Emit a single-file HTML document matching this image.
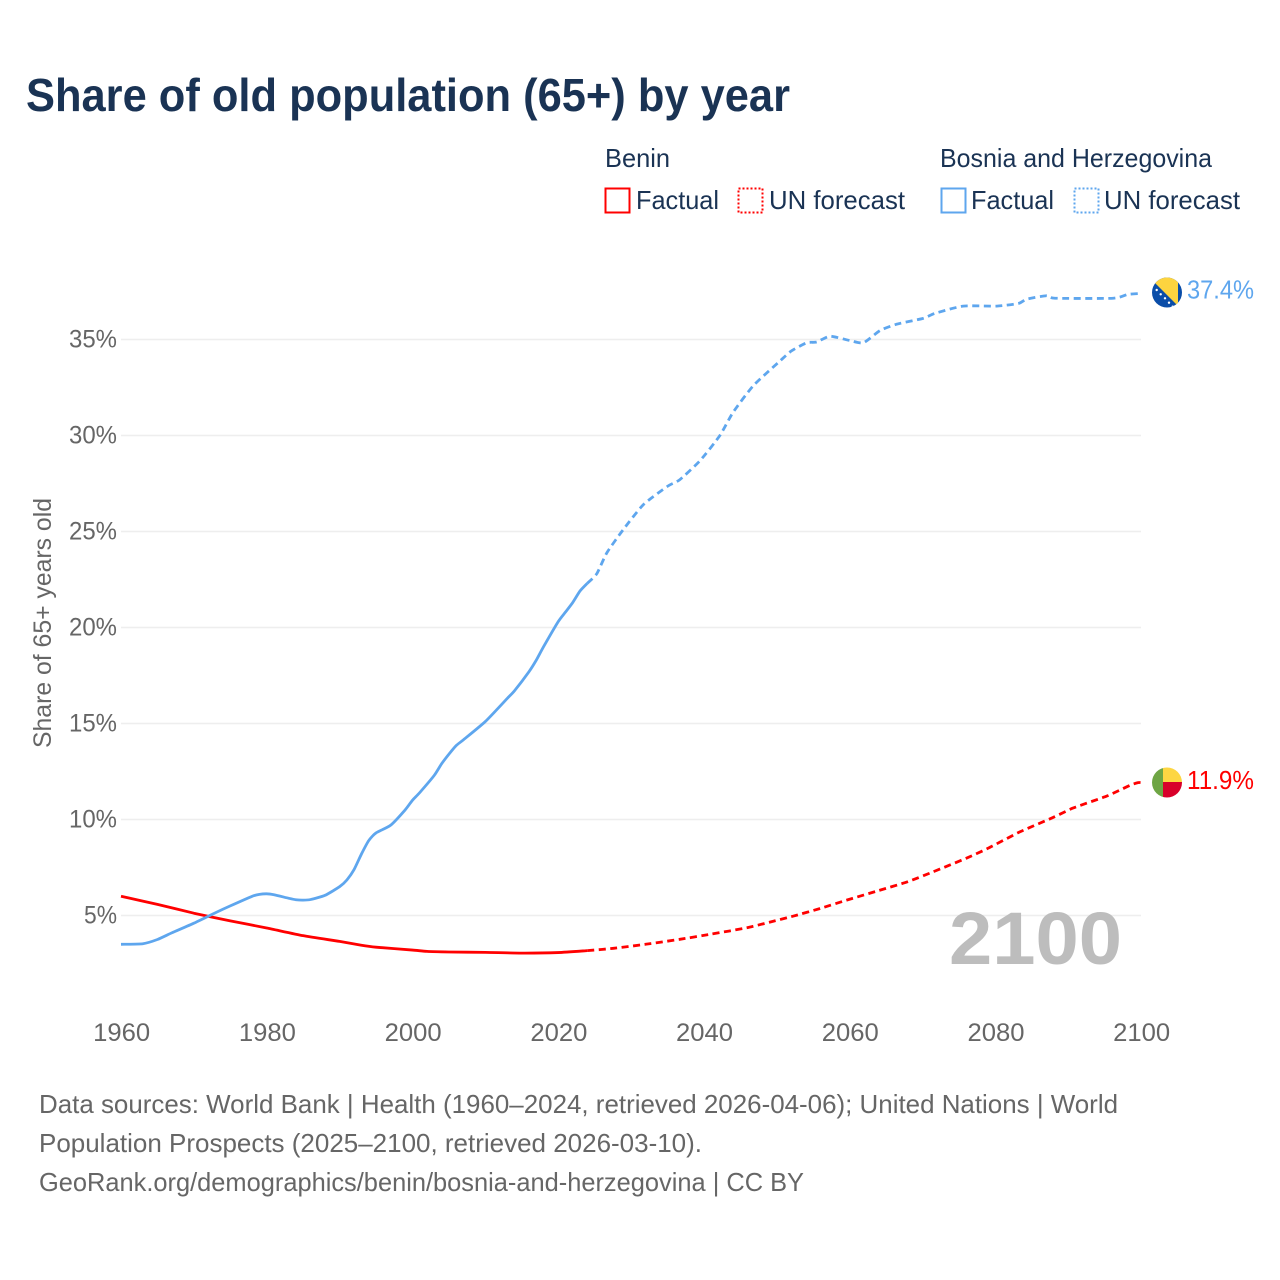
<!DOCTYPE html>
<html>
<head>
<meta charset="utf-8">
<title>Share of old population (65+) by year</title>
<style>
html,body{margin:0;padding:0;background:#fff;}
svg{display:block;font-family:"Liberation Sans",sans-serif;}
</style>
</head>
<body>
<svg id="chart" width="1280" height="1280" viewBox="0 0 1280 1280" xmlns="http://www.w3.org/2000/svg">
  <defs>
    <clipPath id="clipBA"><circle cx="1167" cy="292.5" r="15"/></clipPath>
    <clipPath id="clipBJ"><circle cx="1167" cy="782.5" r="15"/></clipPath>
  </defs>
  <text x="26" y="111" font-size="46" font-weight="700" fill="#1a3354" textLength="764" lengthAdjust="spacingAndGlyphs">Share of old population (65+) by year</text>

  <g fill="#1a3354" font-size="26">
    <text x="605" y="167" textLength="65" lengthAdjust="spacingAndGlyphs">Benin</text>
    <text x="940" y="167" textLength="272" lengthAdjust="spacingAndGlyphs">Bosnia and Herzegovina</text>
    <rect x="605.5" y="188.5" width="24" height="24" fill="none" stroke="#ff0000" stroke-width="2"/>
    <text x="636" y="209" textLength="83" lengthAdjust="spacingAndGlyphs">Factual</text>
    <rect x="738.5" y="188.5" width="24" height="24" fill="none" stroke="#ff0000" stroke-width="2" stroke-dasharray="2 2"/>
    <text x="769" y="209" textLength="136" lengthAdjust="spacingAndGlyphs">UN forecast</text>
    <rect x="941.5" y="188.5" width="24" height="24" fill="none" stroke="#5ea6ee" stroke-width="2"/>
    <text x="971" y="209" textLength="83" lengthAdjust="spacingAndGlyphs">Factual</text>
    <rect x="1074.5" y="188.5" width="24" height="24" fill="none" stroke="#5ea6ee" stroke-width="2" stroke-dasharray="2 2"/>
    <text x="1104" y="209" textLength="136" lengthAdjust="spacingAndGlyphs">UN forecast</text>
  </g>

  <g id="grid"></g>
  <g id="yticks" fill="#666" font-size="25"></g>
  <g id="xticks" fill="#666" font-size="25"></g>
  <text transform="translate(51,748) rotate(-90)" font-size="25" fill="#666" textLength="250" lengthAdjust="spacingAndGlyphs">Share of 65+ years old</text>

  <text x="949" y="964" font-size="74" font-weight="700" fill="#bdbdbd" textLength="173" lengthAdjust="spacingAndGlyphs">2100</text>

  <g id="series"></g>

  <g clip-path="url(#clipBA)">
    <rect x="1152" y="277" width="30" height="31" fill="#0a4da8"/>
    <polygon points="1149,277 1178,277 1178,306" fill="#fdd43f"/>
    <g fill="#fff">
      <circle cx="1156.7" cy="290" r="1.2"/><circle cx="1160.7" cy="294.3" r="1.2"/><circle cx="1165" cy="298.3" r="1.2"/><circle cx="1169" cy="302.7" r="1.2"/><circle cx="1172.7" cy="306.7" r="1.2"/>
    </g>
  </g>
  <g clip-path="url(#clipBJ)">
    <rect x="1152" y="767" width="11" height="31" fill="#6ea544"/>
    <rect x="1163" y="767" width="19" height="15" fill="#fdd643"/>
    <rect x="1163" y="782" width="19" height="16" fill="#d8002a"/>
  </g>
  <text id="labelBA" x="1187" y="298.5" font-size="26" fill="#5ea6ee" textLength="67" lengthAdjust="spacingAndGlyphs"></text>
  <text id="labelBJ" x="1187" y="789" font-size="26" fill="#ff0000" textLength="67" lengthAdjust="spacingAndGlyphs"></text>

  <g font-size="26" fill="#666">
    <text x="39" y="1113" textLength="1079" lengthAdjust="spacingAndGlyphs">Data sources: World Bank | Health (1960–2024, retrieved 2026-04-06); United Nations | World</text>
    <text x="39" y="1152" textLength="663" lengthAdjust="spacingAndGlyphs">Population Prospects (2025–2100, retrieved 2026-03-10).</text>
    <text x="39" y="1191" textLength="765" lengthAdjust="spacingAndGlyphs">GeoRank.org/demographics/benin/bosnia-and-herzegovina | CC BY</text>
  </g>
</svg>
<script>
const yTickValues = [5, 10, 15, 20, 25, 30, 35];
const xTickValues = [1960, 1980, 2000, 2020, 2040, 2060, 2080, 2100];

const beninFactualYears = [1960,1965,1970,1975,1980,1985,1990,1993,1995,2000,2002,2005,2010,2015,2020,2024];
const beninFactualValues = [6.0,5.58,5.12,4.72,4.35,3.95,3.65,3.45,3.35,3.2,3.13,3.1,3.08,3.04,3.07,3.17];
const beninForecastYears = [2024,2027.6,2032,2036.7,2041,2045.9,2049,2052.3,2056,2059.6,2064,2068,2071.5,2076,2079,2083.4,2087.9,2090.7,2095.3,2098.5,2099.6,2100];
const beninForecastValues = [3.17,3.29,3.5,3.76,4.03,4.36,4.65,4.97,5.37,5.8,6.3,6.76,7.28,7.98,8.5,9.36,10.1,10.6,11.22,11.78,11.92,11.92];

const bosniaFactualYears = [1960,1963,1965,1967,1970,1973,1975,1978,1979,1980,1981,1983,1984,1985,1986,1988,1990,1991,1992,1993,1994,1995,1997,1999,2000,2001,2003,2004,2005,2006,2007,2010,2013,2014,2016,2017,2018,2020,2021,2022,2023,2024];
const bosniaFactualValues = [3.5,3.53,3.75,4.1,4.6,5.15,5.5,6.0,6.1,6.13,6.08,5.9,5.82,5.8,5.83,6.05,6.5,6.85,7.4,8.2,8.9,9.3,9.7,10.5,11.0,11.4,12.3,12.9,13.4,13.85,14.15,15.1,16.3,16.7,17.7,18.3,19.0,20.3,20.8,21.3,21.9,22.3];
const bosniaForecastYears = [2024,2025.3,2026.7,2028.9,2031.7,2035,2036.7,2039.5,2042.2,2044,2046.8,2050.5,2052,2054.1,2055.5,2057.3,2060,2061.9,2064.2,2066.5,2070.1,2071.7,2075.6,2080.2,2083.2,2084.3,2087,2088.2,2096.2,2098.2,2100];
const bosniaForecastValues = [22.3,22.8,23.9,25.08,26.4,27.35,27.7,28.7,30.0,31.2,32.6,33.9,34.4,34.83,34.87,35.17,34.95,34.83,35.47,35.8,36.1,36.36,36.74,36.74,36.88,37.1,37.28,37.15,37.15,37.35,37.4];

const endLabelBosnia = "37.4%";
const endLabelBenin = "11.9%";

const SVG_NS = "http://www.w3.org/2000/svg";
function xScale(year) { return 121 + (year - 1960) * (1020 / 140); }
function yScale(value) { return 1011.5 - value * 19.2; }

function drawLine(years, values, color, dash, name) {
  const path = document.createElementNS(SVG_NS, "path");
  const pts = years.map(function (yr, i) { return [xScale(yr), yScale(values[i])]; });
  let d = "M" + pts[0][0].toFixed(2) + " " + pts[0][1].toFixed(2);
  for (let i = 0; i < pts.length - 1; i++) {
    const p0 = pts[Math.max(i - 1, 0)], p1 = pts[i], p2 = pts[i + 1], p3 = pts[Math.min(i + 2, pts.length - 1)];
    const c1x = p1[0] + (p2[0] - p0[0]) / 10, c1y = p1[1] + (p2[1] - p0[1]) / 10;
    const c2x = p2[0] - (p3[0] - p1[0]) / 10, c2y = p2[1] - (p3[1] - p1[1]) / 10;
    d += "C" + c1x.toFixed(2) + " " + c1y.toFixed(2) + " " + c2x.toFixed(2) + " " + c2y.toFixed(2) + " " + p2[0].toFixed(2) + " " + p2[1].toFixed(2);
  }
  path.setAttribute("d", d);
  path.setAttribute("fill", "none");
  path.setAttribute("stroke", color);
  path.setAttribute("stroke-width", "2.8");
  path.setAttribute("stroke-linejoin", "round");
  if (dash) path.setAttribute("stroke-dasharray", dash);
  
  
  document.getElementById("series").appendChild(path);
}

const gridGroup = document.getElementById("grid");
const yTickGroup = document.getElementById("yticks");
yTickValues.forEach(function (v) {
  const line = document.createElementNS(SVG_NS, "line");
  line.setAttribute("x1", xScale(1960));
  line.setAttribute("x2", xScale(2100));
  line.setAttribute("y1", yScale(v));
  line.setAttribute("y2", yScale(v));
  line.setAttribute("stroke", "#eeeeee");
  line.setAttribute("stroke-width", "1.5");
  
  
  gridGroup.appendChild(line);

  const label = document.createElementNS(SVG_NS, "text");
  const text = v + "%";
  label.textContent = text;
  label.setAttribute("x", xScale(1960) - 4);
  label.setAttribute("y", yScale(v) + 8);
  label.setAttribute("text-anchor", "end");
  label.setAttribute("textLength", String(v + "").length * 15 + 18);
  label.setAttribute("lengthAdjust", "spacingAndGlyphs");
  
  
  yTickGroup.appendChild(label);
});

const xTickGroup = document.getElementById("xticks");
xTickValues.forEach(function (yr) {
  const label = document.createElementNS(SVG_NS, "text");
  label.textContent = yr;
  label.setAttribute("x", xScale(yr) + 0.7);
  label.setAttribute("y", 1041);
  label.setAttribute("text-anchor", "middle");
  label.setAttribute("textLength", "57");
  label.setAttribute("lengthAdjust", "spacingAndGlyphs");
  
  
  xTickGroup.appendChild(label);
});

drawLine(beninFactualYears, beninFactualValues, "#ff0000", null, "line-benin-factual");
drawLine(beninForecastYears, beninForecastValues, "#ff0000", "7 4.5", "line-benin-forecast");
drawLine(bosniaFactualYears, bosniaFactualValues, "#5ea6ee", null, "line-bosnia-factual");
drawLine(bosniaForecastYears, bosniaForecastValues, "#5ea6ee", "7 4.5", "line-bosnia-forecast");

document.getElementById("labelBA").textContent = endLabelBosnia;
document.getElementById("labelBJ").textContent = endLabelBenin;
</script>
</body>
</html>
